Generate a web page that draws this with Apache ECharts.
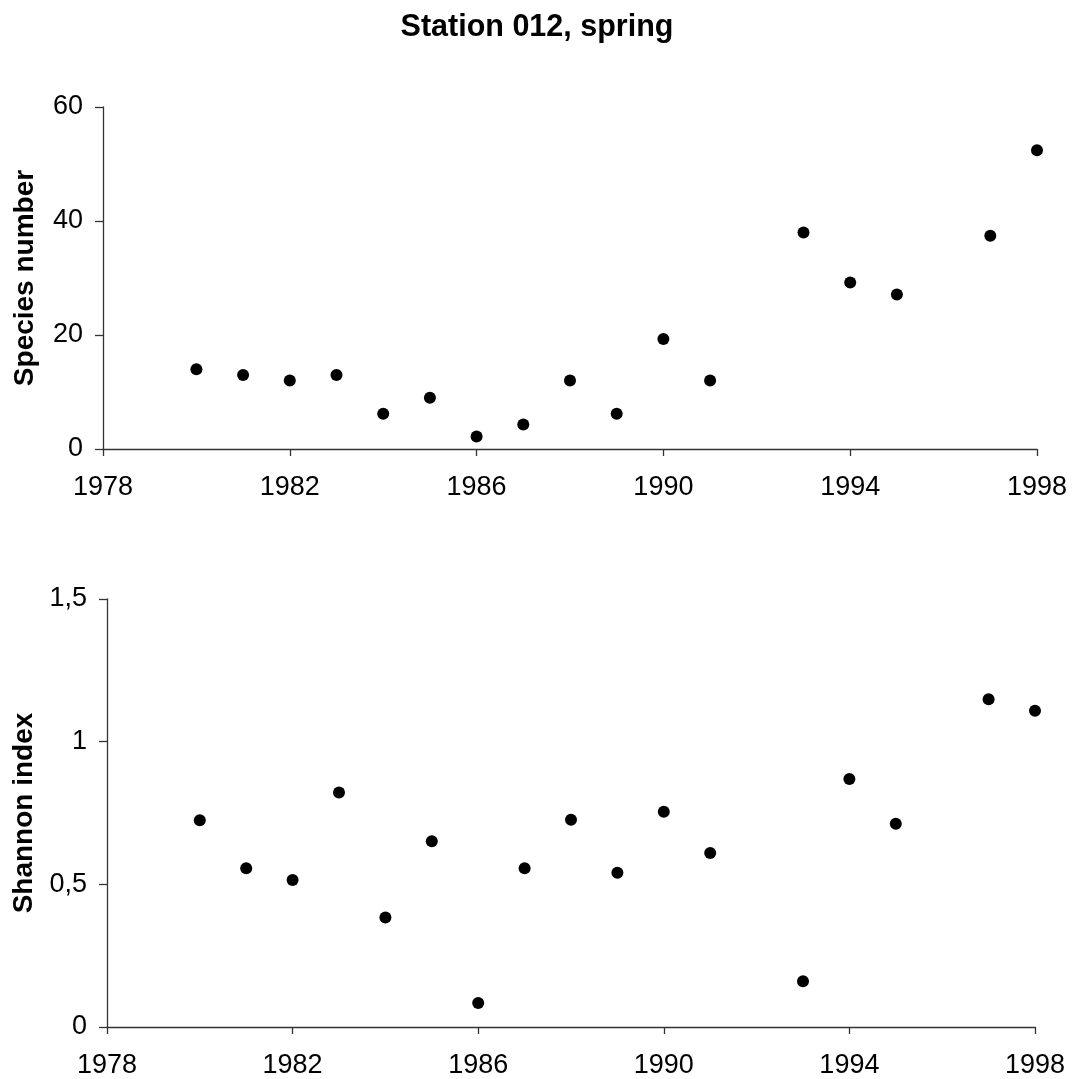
<!DOCTYPE html>
<html>
<head>
<meta charset="utf-8">
<script src="https://cdn.jsdelivr.net/npm/echarts@6/dist/echarts.min.js"></script>
<style>
html,body{margin:0;padding:0;background:#fff;}
#chart{width:1074px;height:1079px;}
</style>
</head>
<body>
<div id="chart"></div>
<script>
var titleText = 'Station 012, spring';
var years = [1980, 1981, 1982, 1983, 1984, 1985, 1986, 1987, 1988, 1989, 1990, 1991, 1993, 1994, 1995, 1997, 1998];
var speciesNumber = [14, 13, 12, 13, 6.2, 9, 2.2, 4.3, 12, 6.2, 19.3, 12, 38, 29.2, 27.1, 37.4, 52.4];
var shannonIndex = [0.725, 0.556, 0.515, 0.822, 0.384, 0.651, 0.084, 0.556, 0.726, 0.541, 0.754, 0.610, 0.160, 0.869, 0.712, 1.149, 1.108];
var topYName = 'Species number';
var bottomYName = 'Shannon index';

function pairs(xs, ys) { return xs.map(function (x, i) { return [x, ys[i]]; }); }

var FONT = '"Liberation Sans", Arial, sans-serif';
var axisColor = '#333333';
function xAxisCfg(idx) {
  return {
    type: 'value', gridIndex: idx, min: 1978, max: 1998, interval: 4,
    axisLine: { show: true, onZero: false, lineStyle: { color: axisColor, width: 1.3 } },
    axisTick: { show: true, length: 7, lineStyle: { color: axisColor, width: 1.3 } },
    splitLine: { show: false },
    axisLabel: { color: '#000', fontFamily: FONT, fontSize: 27, margin: 25,
      formatter: function (v) { return String(v); } }
  };
}
function yAxisCfg(idx, min, max, interval, name, fmt) {
  return {
    type: 'value', gridIndex: idx, min: min, max: max, interval: interval,
    name: name, nameLocation: 'middle', nameGap: 64, nameRotate: 90,
    nameTextStyle: { color: '#000', fontFamily: FONT, fontSize: 28, fontWeight: 'bold' },
    axisLine: { show: true, onZero: false, lineStyle: { color: axisColor, width: 1.3 } },
    axisTick: { show: true, length: 8, lineStyle: { color: axisColor, width: 1.3 } },
    splitLine: { show: false },
    axisLabel: { color: '#000', fontFamily: FONT, fontSize: 27, margin: 20, formatter: fmt }
  };
}

var chart = echarts.init(document.getElementById('chart'), null, { renderer: 'canvas' });
chart.setOption({
  backgroundColor: '#ffffff',
  animation: false,
  title: {
    text: titleText, left: 'center', top: 7,
    textStyle: { color: '#000', fontFamily: FONT, fontSize: 30.5, fontWeight: 'bold' }
  },
  grid: [
    { left: 103, right: 37, top: 107, height: 342 },
    { left: 107, right: 39, top: 599, height: 428 }
  ],
  xAxis: [xAxisCfg(0), xAxisCfg(1)],
  yAxis: [
    yAxisCfg(0, 0, 60, 20, topYName, function (v) { return String(v); }),
    yAxisCfg(1, 0, 1.5, 0.5, bottomYName, function (v) { return String(v).replace('.', ','); })
  ],
  series: [
    { type: 'scatter', xAxisIndex: 0, yAxisIndex: 0, data: pairs(years, speciesNumber),
      symbol: 'circle', symbolSize: 12, itemStyle: { color: '#000', opacity: 1 } },
    { type: 'scatter', xAxisIndex: 1, yAxisIndex: 1, data: pairs(years, shannonIndex),
      symbol: 'circle', symbolSize: 12, itemStyle: { color: '#000', opacity: 1 } }
  ]
});
</script>
</body>
</html>
